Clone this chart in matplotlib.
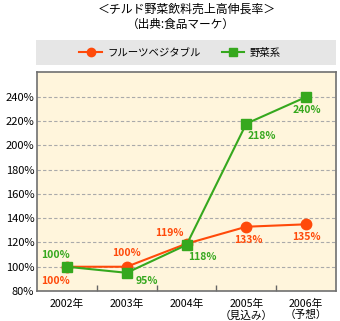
import matplotlib
matplotlib.use("Agg")
import matplotlib.pyplot as plt
from matplotlib.patches import Rectangle
from matplotlib.lines import Line2D

plt.rcParams['font.family'] = ['Noto Sans CJK JP', 'DejaVu Sans']

categories = ["2002年", "2003年", "2004年", "2005年\n（見込み）", "2006年\n（予想）"]
fruit_values = [100, 100, 119, 133, 135]
veg_values = [100, 95, 118, 218, 240]
series_names = ["フルーツベジタブル", "野菜系"]
y_ticks = [80, 100, 120, 140, 160, 180, 200, 220, 240]
title = "＜チルド野菜飲料売上高伸長率＞"
subtitle = "（出典:食品マーケ）"

ORANGE = "#FF4A0A"
GREEN = "#36A81E"

W, H = 340, 321
fig = plt.figure(figsize=(W / 100, H / 100), dpi=100)
fig.patch.set_facecolor("white")

ax = fig.add_axes([37 / W, (H - 291) / H, 299 / W, (291 - 72) / H])
ax.set_facecolor("#FFF5DC")
x = list(range(len(categories)))

ax.plot(x, fruit_values, color=ORANGE, lw=1.5, marker="o", ms=7.5, zorder=3)
ax.plot(x, veg_values, color=GREEN, lw=1.5, marker="s", ms=7.5, zorder=4)

ax.set_xlim(-0.5, len(categories) - 0.5)
ax.set_ylim(80, 260.6)
ax.set_yticks(y_ticks)
ax.set_yticklabels([f"{v}%" for v in y_ticks], fontsize=8)
ax.set_xticks(x)
ax.set_xticklabels(categories, fontsize=7.7, linespacing=1.1)
ax.set_xticks([i + 0.5 for i in x[:-1]], minor=True)
ax.tick_params(axis="x", which="major", length=0, pad=6)
ax.tick_params(axis="x", which="minor", length=4, direction="in", color="#666666", width=1)
ax.tick_params(axis="y", length=0, pad=2)
for v in y_ticks[1:]:
    ax.axhline(v, color="#AAAAAA", lw=0.8, ls=(0, (3, 2)), zorder=1)
for s in ax.spines.values():
    s.set_color("#707070")
    s.set_linewidth(1.2)

fruit_off = [(-11, -14), (0, 14), (-17, 11), (2, -13), (0, -13)]
veg_off = [(-11, 12), (20, -8), (16, -12), (16, -12), (1, -13)]
for i, v in enumerate(fruit_values):
    ax.annotate(f"{v}%", (x[i], v), xytext=fruit_off[i], textcoords="offset pixels",
                ha="center", va="center", color=ORANGE, fontsize=7.5, fontweight="bold", zorder=6)
for i, v in enumerate(veg_values):
    ax.annotate(f"{v}%", (x[i], v), xytext=veg_off[i], textcoords="offset pixels",
                ha="center", va="center", color=GREEN, fontsize=7.5, fontweight="bold", zorder=6)

fig.text(187 / W, 1 - 9 / H, title, ha="center", va="center", fontsize=8.6)
fig.text(181 / W, 1 - 24 / H, subtitle, ha="center", va="center", fontsize=8.4)

fig.patches.append(Rectangle((36 / W, 1 - 65 / H), 300 / W, 25 / H, transform=fig.transFigure,
                             facecolor="#E6E6E6", edgecolor="none", zorder=0))
handles = [Line2D([], [], color=ORANGE, lw=1.5, marker="o", ms=6),
           Line2D([], [], color=GREEN, lw=1.5, marker="s", ms=6)]
fig.legend(handles, series_names, loc="center", bbox_to_anchor=(180 / W, 1 - 53 / H), ncol=2,
           frameon=False, fontsize=7.5, handlelength=2.2, handletextpad=0.5, columnspacing=2.0)

fig.savefig("out.png", dpi=100)
